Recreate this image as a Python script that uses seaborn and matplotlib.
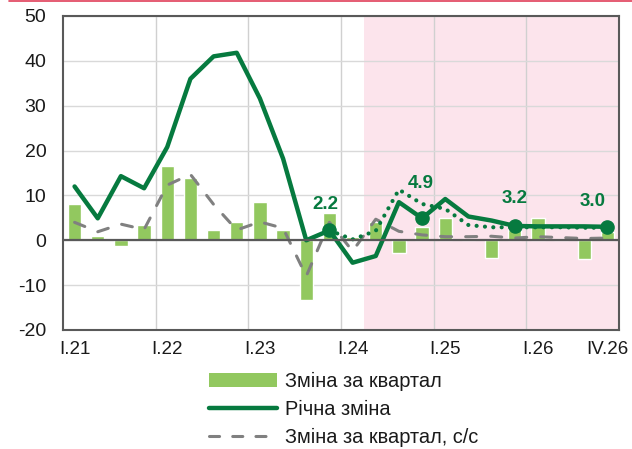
import numpy as np
import pandas as pd
import matplotlib
matplotlib.use("Agg")
import matplotlib.pyplot as plt
from matplotlib.lines import Line2D
from matplotlib.patches import Patch
import seaborn as sns

# квартали I.21 ... IV.26
quarters = [f"{q}.{y}" for y in range(21, 27) for q in ["I", "II", "III", "IV"]]
tick_labels = ["I.21", "I.22", "I.23", "I.24", "I.25", "I.26", "IV.26"]

# зміна за квартал (стовпчики)
qoq = [8.0, 0.9, -1.3, 3.4, 16.6, 13.9, 2.2, 4.0, 8.5, 2.2, -13.3, 6.0,
       0.7, 4.0, -2.8, 2.9, 4.9, 0.3, -3.9, 2.2, 5.0, 0.3, -4.1, 1.9]
# річна зміна (базовий сценарій)
yoy = [12.0, 4.9, 14.3, 11.6, 20.8, 36.0, 41.0, 41.8, 31.6, 18.2, 0.0, 2.2,
       -5.0, -3.5, 8.5, 4.9, 9.2, 5.3, 4.4, 3.2, 3.1, 3.1, 3.1, 3.0]
# річна зміна, альтернативна траєкторія (пунктир), з IV.23
yoy_alt = [2.2, 0.2, 2.1, 11.3, 8.1, 7.0, 3.4, 2.9, 2.9, 2.9, 2.9, 2.8, 2.8]
# зміна за квартал, с/с
qoq_sa = [4.0, 1.9, 3.6, 2.4, 12.3, 14.7, 8.0, 2.3, 4.1, 2.7, -8.0, 4.0,
          -2.4, 4.7, 2.0, 1.2, 0.8, 0.8, 0.9, 0.5, 0.8, 0.6, 0.4, 0.5]
# підписані точки
label_idx = [11, 15, 19, 23]
label_txt = ["2.2", "4.9", "3.2", "3.0"]

df = pd.DataFrame({"q": quarters, "x": np.arange(len(quarters)),
                   "qoq": qoq, "yoy": yoy, "qoq_sa": qoq_sa})
df_alt = pd.DataFrame({"x": np.arange(11, 11 + len(yoy_alt)), "yoy_alt": yoy_alt})

bar_col = "#92C85F"
dark_green = "#067A3F"
gray = "#808080"
axis_col = "#595959"
fs = 13.5

sns.set_theme(style="white")
plt.rcParams["font.family"] = ["Liberation Sans", "DejaVu Sans"]
plt.rcParams["axes.unicode_minus"] = False

fig = plt.figure(figsize=(6.32, 4.49), dpi=100)
ax = fig.add_axes([63 / 632, 1 - 330 / 449, 556 / 632, 314 / 449])

# прогнозний період
ax.axvspan(12.5, 23.5, color="#FCE4EC", zorder=0, lw=0)

sns.barplot(data=df, x="q", y="qoq", color=bar_col, width=0.575,
            saturation=1, ax=ax, zorder=2)
sns.lineplot(data=df, x="x", y="qoq_sa", ax=ax, color=gray, lw=2.2,
             legend=False, zorder=3)
ax.lines[-1].set_dashes([3.6, 4.6])
ax.lines[-1].set_dash_capstyle("round")
sns.lineplot(data=df_alt, x="x", y="yoy_alt", ax=ax, color=dark_green, lw=3.0,
             legend=False, zorder=4)
ax.lines[-1].set_dashes([0.01, 2.0])
ax.lines[-1].set_dash_capstyle("round")
sns.lineplot(data=df, x="x", y="yoy", ax=ax, color=dark_green, lw=3.2,
             legend=False, zorder=5)
ax.plot(df["x"].iloc[label_idx], df["yoy"].iloc[label_idx], "o",
        color=dark_green, ms=9.5, zorder=6)

offsets = [(-3, 19), (-1, 25), (0, 20), (-11, 18)]
for i, t, off in zip(label_idx, label_txt, offsets):
    ax.annotate(t, (i, yoy[i]), xytext=off, textcoords="offset points",
                ha="center", va="center", fontsize=fs, fontweight="bold",
                color=dark_green, zorder=7)

ax.axhline(0, color=axis_col, lw=1.6, zorder=6)

ax.set_xlim(-0.5, 23.5)
ax.set_ylim(-20, 50)
ax.set_yticks(range(-20, 51, 10))
ax.set_xticks([0, 4, 8, 12, 16, 20, 23])
ax.set_xticklabels(tick_labels)
ax.set_xticks([3.5, 7.5, 11.5, 15.5, 19.5], minor=True)
ax.grid(False)
ax.grid(axis="y", which="major", color="#D9D9D9", lw=1, zorder=1)
ax.grid(axis="x", which="minor", color="#D0D0D0", lw=1, zorder=1)
ax.set_axisbelow(True)
ax.tick_params(axis="x", which="both", length=0, pad=8, labelsize=fs,
               colors="#1a1a1a")
ax.tick_params(axis="y", direction="in", length=3, color=axis_col, pad=12,
               labelsize=fs + 0.5, labelcolor="#1a1a1a")
ax.set_xlabel("")
ax.set_ylabel("")
for s in ax.spines.values():
    s.set_visible(True)
    s.set_color(axis_col)
    s.set_linewidth(1.5)

handles = [
    Patch(facecolor=bar_col, edgecolor="none"),
    Line2D([0], [0], color=dark_green, lw=3.2, solid_capstyle="round"),
    Line2D([0], [0], color=gray, lw=2.2, dashes=[3.3, 4.3],
           dash_capstyle="round"),
]
labels = ["Зміна за квартал", "Річна зміна", "Зміна за квартал, с/с"]
fig.legend(handles, labels, loc="upper left",
           bbox_to_anchor=(209 / 632, 1 - 372 / 449), frameon=False,
           fontsize=14.4, borderpad=0, borderaxespad=0, handlelength=3.4,
           handleheight=0.7, handletextpad=0.4, labelspacing=0.45,
           labelcolor="#1a1a1a")

# червона лінія зверху
fig.add_artist(Line2D([9 / 632, 1], [1 - 0.6 / 449, 1 - 0.6 / 449],
                      color="#E0405A", lw=1.2, transform=fig.transFigure))

fig.savefig("out.png", dpi=100)
